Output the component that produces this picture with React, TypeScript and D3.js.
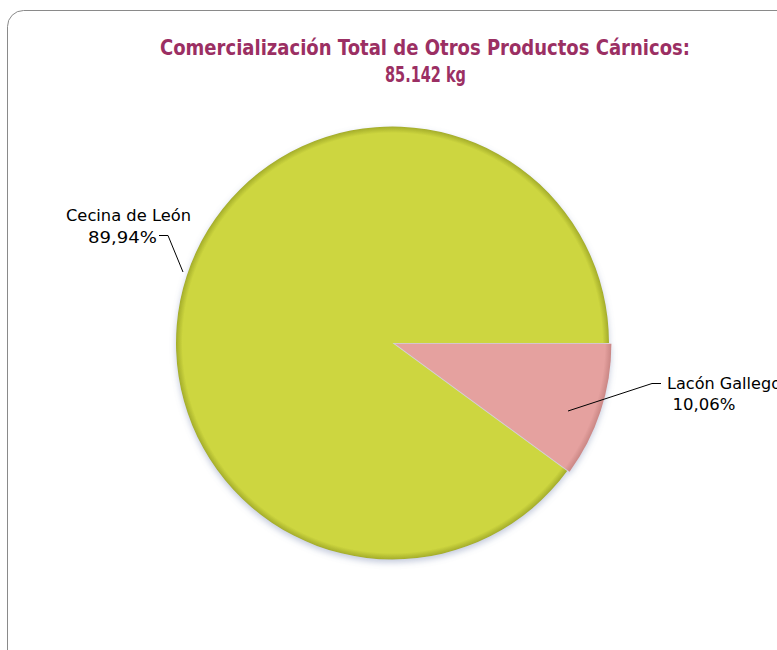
import React from "react";
import * as d3 from "d3";

const categories = ["Cecina de León", "Lacón Gallego"];
const values = [89.94, 10.06];
const labels = ["89,94%", "10,06%"];
const colors = ["#CDD63F", "#E5A19F"];
const rims = ["#A3AC2A", "#C98684"];
const titleLines = ["Comercialización Total de Otros Productos Cárnicos:", "85.142 kg"];

export default function App() {
  const W = 777, H = 650;
  const cx = 392.5, cy = 343, r = 216.5;
  const pie = d3
    .pie<number>()
    .sort(null)
    .startAngle(Math.PI / 2 - (values[0] / 100) * 2 * Math.PI)
    .endAngle(Math.PI / 2 + (values[1] / 100) * 2 * Math.PI);
  const arcs = pie(values);
  const arcGen = d3.arc<d3.PieArcDatum<number>>().innerRadius(0).outerRadius(r);
  const explode = [0, 2.5];
  const font = "'DejaVu Sans'";
  return (
    <svg width={W} height={H} style={{ position: "absolute", left: 0, top: 0 }}>
      <defs>
        {colors.map((c, i) => (
          <radialGradient key={i} id={"g" + i} cx={0} cy={0} r={r} gradientUnits="userSpaceOnUse">
            <stop offset="0%" stopColor={c} />
            <stop offset="97%" stopColor={c} />
            <stop offset="100%" stopColor={rims[i]} />
          </radialGradient>
        ))}
        <filter id="sh" x="-20%" y="-20%" width="140%" height="140%">
          <feGaussianBlur in="SourceAlpha" stdDeviation="3" />
          <feOffset dx="0" dy="3" result="b" />
          <feFlood floodColor="#6A7BA8" floodOpacity="0.4" />
          <feComposite in2="b" operator="in" />
          <feMerge>
            <feMergeNode />
            <feMergeNode in="SourceGraphic" />
          </feMerge>
        </filter>
      </defs>
      <rect x={7.5} y={10.5} width={790} height={680} rx={16} ry={16} fill="#fff" stroke="#8a8a8a" strokeWidth={1} />
      <text x={425} y={55} textAnchor="middle" fill="#9B2F63" fontFamily={font} fontWeight="bold" fontSize={21}
        textLength={530} lengthAdjust="spacingAndGlyphs">
        {titleLines[0]}
      </text>
      <text x={425.5} y={82} textAnchor="middle" fill="#9B2F63" fontFamily={font} fontWeight="bold" fontSize={21}
        textLength={81} lengthAdjust="spacingAndGlyphs">
        {titleLines[1]}
      </text>
      <g filter="url(#sh)">
        {arcs.map((a, i) => {
          const mid = (a.startAngle + a.endAngle) / 2;
          const dx = Math.sin(mid) * explode[i];
          const dy = -Math.cos(mid) * explode[i];
          return (
            <path key={i} d={arcGen(a) || ""} fill={`url(#g${i})`} transform={`translate(${cx + dx},${cy + dy})`} />
          );
        })}
      </g>
      <polyline points="159,235.5 168,235.5 183,272" fill="none" stroke="#000" strokeWidth={1} />
      <polyline points="568,411 652,383.5 661,383.5" fill="none" stroke="#000" strokeWidth={1} />
      <g fontFamily={font} fontSize={15.5} fill="#000">
        <text x={191} y={221} textAnchor="end" textLength={125} lengthAdjust="spacingAndGlyphs">{categories[0]}</text>
        <text x={157} y={243} textAnchor="end" textLength={69} lengthAdjust="spacingAndGlyphs">{labels[0]}</text>
        <text x={667} y={389} textAnchor="start" textLength={114} lengthAdjust="spacingAndGlyphs">{categories[1]}</text>
        <text x={704} y={410} textAnchor="middle" textLength={63} lengthAdjust="spacingAndGlyphs">{labels[1]}</text>
      </g>
    </svg>
  );
}
